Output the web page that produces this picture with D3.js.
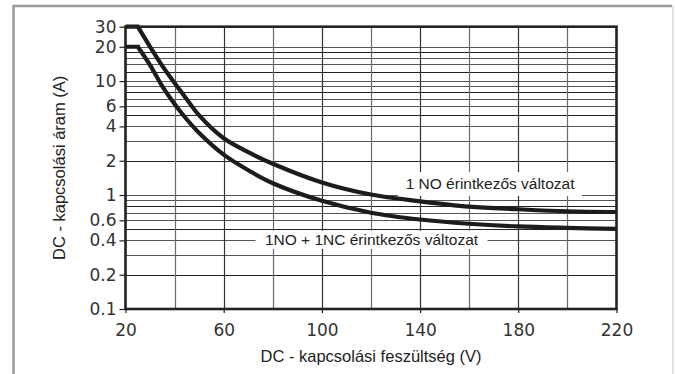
<!DOCTYPE html>
<html>
<head>
<meta charset="utf-8">
<script src="https://cdn.jsdelivr.net/npm/d3@7"></script>
<style>
  html, body { margin: 0; padding: 0; background: #fff; }
  svg { display: block; }
</style>
</head>
<body>
<svg id="chart" width="675" height="374"></svg>
<script>
// ---- data ----
const voltageTicks = [20, 60, 100, 140, 180, 220];
const voltageGrid = [40, 60, 80, 100, 120, 140, 160, 180, 200];
const currentTicks = [30, 20, 10, 6, 4, 2, 1, 0.6, 0.4, 0.2, 0.1];
const currentGrid = [20, 18, 16, 14, 12, 10, 9, 8, 7, 6, 5, 4, 3, 2, 1, 0.9, 0.8, 0.7, 0.6, 0.5, 0.4, 0.3, 0.2];

const voltage1NO =  [20, 25, 30, 35, 40, 45, 50, 60, 70, 80, 100, 120, 140, 160, 180, 200, 220];
const current1NO =  [30, 30, 20, 13.6, 9.6, 6.9, 5.0, 3.15, 2.38, 1.88, 1.29, 1.01, 0.88, 0.79, 0.75, 0.72, 0.71];
const voltage1NC =  [20, 25, 30, 35, 40, 45, 50, 60, 70, 80, 100, 120, 140, 160, 180, 200, 220];
const current1NC =  [20, 20, 13.8, 9.0, 6.3, 4.6, 3.5, 2.26, 1.65, 1.27, 0.89, 0.70, 0.61, 0.56, 0.53, 0.515, 0.505];

const label1NO = "1 NO érintkezős változat";
const label1NC = "1NO + 1NC érintkezős változat";
const xTitle = "DC - kapcsolási feszültség (V)";
const yTitle = "DC - kapcsolási áram (A)";

// ---- layout ----
const svg = d3.select("#chart");
const pL = 125.5, pR = 616.5, pT = 26.7, pB = 309;
const x = d3.scaleLinear().domain([20, 220]).range([pL, pR]);
const y = d3.scaleLog().domain([0.1, 30]).range([pB, pT]);

// outer frame
svg.append("path")
  .attr("d", `M13.5,374 L13.5,6 L672,6`)
  .attr("fill", "none").attr("stroke", "#9a9a9a").attr("stroke-width", 2.5);
svg.append("line").attr("x1", 673).attr("x2", 673).attr("y1", 6).attr("y2", 374)
  .attr("stroke", "#d8d8d8").attr("stroke-width", 1.5);

// gridlines
const g = svg.append("g");
g.selectAll(".hg").data(currentGrid).join("line")
  .attr("x1", pL).attr("x2", pR)
  .attr("y1", d => Math.round(y(d)) + 0.5).attr("y2", d => Math.round(y(d)) + 0.5)
  .attr("stroke", (d, i) => i % 3 === 1 ? "#222" : "#555").attr("stroke-width", 1.1);
g.selectAll(".vg").data(voltageGrid).join("line")
  .attr("y1", pT).attr("y2", pB)
  .attr("x1", d => Math.round(x(d)) + 0.5).attr("x2", d => Math.round(x(d)) + 0.5)
  .attr("stroke", (d, i) => i % 2 === 0 ? "#6a6a6a" : "#333").attr("stroke-width", 1.2);

// label boxes
function labelBox(text, cx, cy, w, h) {
  svg.append("rect").attr("x", cx - w / 2).attr("y", cy - h / 2)
    .attr("width", w).attr("height", h).attr("fill", "#fff");
  svg.append("text").attr("x", cx).attr("y", cy + 5.5)
    .attr("text-anchor", "middle")
    .attr("font-family", "'Liberation Sans', Arial, sans-serif")
    .attr("font-size", 15.5).attr("fill", "#222").text(text);
}
labelBox(label1NO, x(168.5), y(1.25), 184, 24);
labelBox(label1NC, x(120.2), y(0.405), 232, 18);

// curves: flat limit segment, then a smooth decay
const smooth = d3.line().x(d => x(d[0])).y(d => y(d[1])).curve(d3.curveCatmullRom.alpha(0.5));
function curvePath(vs, cs) {
  const pts = vs.map((v, i) => [v, cs[i]]);
  const flat = `M${x(pts[0][0])},${y(pts[0][1])}L${x(pts[1][0])},${y(pts[1][1])}`;
  const rest = smooth(pts.slice(1)).replace(/^M[^A-Za-z]*/, "");
  return flat + rest;
}
svg.append("path").attr("d", curvePath(voltage1NO, current1NO)).attr("fill", "none")
  .attr("stroke", "#1c1c1c").attr("stroke-width", 4.2).attr("stroke-linejoin", "miter");
svg.append("path").attr("d", curvePath(voltage1NC, current1NC)).attr("fill", "none")
  .attr("stroke", "#1c1c1c").attr("stroke-width", 4.2).attr("stroke-linejoin", "miter");

// plot frame
svg.append("rect").attr("x", pL).attr("y", pT)
  .attr("width", pR - pL).attr("height", pB - pT)
  .attr("fill", "none").attr("stroke", "#222").attr("stroke-width", 2.6);

// axes
const tickFont = "'DejaVu Sans', sans-serif";
const yAxis = d3.axisLeft(y).tickValues(currentTicks).tickFormat(d => String(d)).tickSize(6).tickPadding(3);
const ya = svg.append("g").attr("transform", `translate(${pL},0)`).call(yAxis);
ya.select(".domain").remove();
ya.selectAll("line").attr("stroke", "#222").attr("stroke-width", 1.2);
ya.selectAll("text").attr("font-family", tickFont).attr("font-size", 17).attr("fill", "#333");

const xAxis = d3.axisBottom(x).tickValues(voltageTicks).tickFormat(d3.format("d")).tickSize(4).tickPadding(11);
const xa = svg.append("g").attr("transform", `translate(0,${pB})`).call(xAxis);
xa.select(".domain").remove();
xa.selectAll("line").attr("stroke", "#222").attr("stroke-width", 1.2);
xa.selectAll("text").attr("font-family", tickFont).attr("font-size", 17).attr("fill", "#333");

// axis titles
svg.append("text").attr("x", (pL + pR) / 2).attr("y", 362)
  .attr("text-anchor", "middle")
  .attr("font-family", "'Liberation Sans', Arial, sans-serif")
  .attr("font-size", 16.5).attr("fill", "#222").text(xTitle);
svg.append("text")
  .attr("transform", `translate(64.5,${(pT + pB) / 2}) rotate(-90)`)
  .attr("text-anchor", "middle")
  .attr("font-family", "'Liberation Sans', Arial, sans-serif")
  .attr("font-size", 16.5).attr("fill", "#222").text(yTitle);
</script>
</body>
</html>
